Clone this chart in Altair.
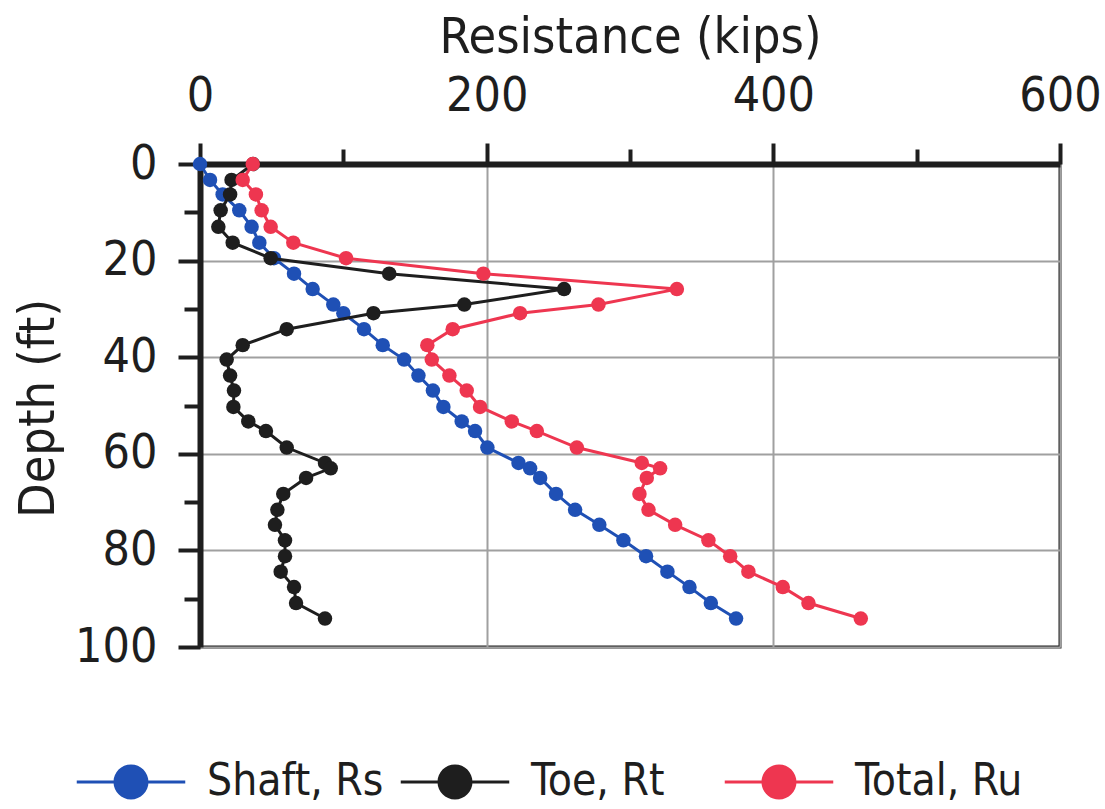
import altair as alt
import pandas as pd

# ---- data ----
depth = [0, 3.3, 6.3, 9.6, 13.0, 16.3, 19.5, 22.7, 25.9, 29.1, 30.9, 34.2, 37.5, 40.5,
         43.8, 46.9, 50.3, 53.3, 55.3, 58.7, 61.9, 63.0, 65.0, 68.3, 71.6, 74.7, 77.9,
         81.2, 84.4, 87.6, 90.9, 94.1]
shaft = [0, 7, 15.8, 27.4, 36, 41.4, 51.6, 65.6, 78.6, 93, 100, 114.4, 127.5, 142.4,
         152.4, 162.5, 169.8, 182.6, 191.9, 200.5, 222.2, 230.3, 237.3, 248.4, 261.7,
         278.6, 295.4, 311.2, 326.1, 341.5, 356.4, 374]
toe = [37, 22, 21, 14.4, 12.8, 22.8, 49.3, 132, 254, 184.4, 121, 60.5, 29.8, 18.6,
       21, 23.7, 23.3, 33.7, 46, 60.5, 87.2, 91.2, 74, 58.1, 54, 52.3, 59.3, 59.3,
       56.3, 65.6, 67, 87.2]
total = [36.8, 29.8, 39, 43, 49.3, 65.1, 101.9, 197.7, 332.7, 278, 223.3, 176.3, 158.6,
         161.7, 174, 186.1, 195.4, 217.5, 235, 262.9, 308.2, 321, 311.7, 306.6, 312.9,
         331.5, 354.7, 369.9, 382.6, 406.6, 424.5, 461]

series_names = ["Shaft, Rs", "Toe, Rt", "Total, Ru"]
series_colors = ["#1f50b5", "#1e1e1e", "#ee3650"]
x_ticks = [0, 100, 200, 300, 400, 500, 600]
y_ticks = [0, 10, 20, 30, 40, 50, 60, 70, 80, 90, 100]

frames = []
for name, vals in zip(series_names, [shaft, toe, total]):
    frames.append(pd.DataFrame({"series": name, "depth": depth, "value": vals,
                                "idx": list(range(len(depth)))}))

FONT = "DejaVu Sans Condensed, DejaVu Sans, Liberation Sans, sans-serif"
INK = "#1e1e1e"

color_scale = alt.Scale(domain=series_names, range=series_colors)

legend_path = ("M-3.1,-0.08H-0.97V0.08H-3.1Z M0.97,-0.08H3.1V0.08H0.97Z "
               "M1,0A1,1,0,1,1,-1,0A1,1,0,1,1,1,0Z")

legend = alt.Legend(
    title=None, orient="none", direction="horizontal", columns=3,
    legendX=-91, legendY=596, symbolType=legend_path, symbolSize=1225,
    symbolStrokeWidth=0, symbolOpacity=1, labelFont=FONT, labelFontSize=44,
    labelColor=INK, labelOffset=54, gridAlign="all", columnPadding=16,
    labelLimit=400,
)

x_enc = alt.X(
    "value:Q",
    scale=alt.Scale(domain=[0, 600], nice=False, zero=False),
    axis=alt.Axis(
        orient="top", values=x_ticks,
        labelExpr="datum.value % 200 === 0 ? datum.label : ''",
        title="Resistance (kips)", titleFont=FONT, titleFontSize=50,
        titleFontWeight="normal", titleColor=INK,
        titleX=430, titleY=-112, titleBaseline="alphabetic", titleAlign="center",
        labelFont=FONT, labelFontSize=48, labelColor=INK, labelPadding=23,
        labelFlush=False, labelOverlap=False, labelBound=False,
        tickSize={"condition": {"test": "datum.value % 200 === 0", "value": 21}, "value": 15},
        tickWidth=4, tickColor=INK, domainColor=INK, domainWidth=6,
        gridColor={"condition": {"test": "datum.value % 200 === 0", "value": "#a0a0a0"},
                   "value": "transparent"},
        gridWidth=2,
    ),
)
y_enc = alt.Y(
    "depth:Q",
    scale=alt.Scale(domain=[0, 100], reverse=True, nice=False, zero=False),
    axis=alt.Axis(
        orient="left", values=y_ticks,
        labelExpr="datum.value % 20 === 0 ? datum.label : ''",
        title="Depth (ft)", titleFont=FONT, titleFontSize=50,
        titleFontWeight="normal", titleColor=INK,
        titleX=-147, titleY=244, titleAngle=270, titleBaseline="alphabetic",
        titleAlign="center",
        labelFont=FONT, labelFontSize=48, labelColor=INK, labelPadding=21,
        labelFlush=False, labelOverlap=False, labelBound=False,
        tickSize={"condition": {"test": "datum.value % 20 === 0", "value": 22}, "value": 16},
        tickWidth=4, tickColor=INK, domainColor=INK, domainWidth=6,
        gridColor={"condition": {"test": "datum.value % 20 === 0", "value": "#a0a0a0"},
                   "value": "transparent"},
        gridWidth=2,
    ),
)

layers = []
for df, col in zip(frames, series_colors):
    base = alt.Chart(df)
    line = base.mark_line(strokeWidth=3, color=col).encode(
        x=x_enc, y=y_enc, order="idx:Q",
    )
    pts = base.mark_circle(size=210, opacity=1).encode(
        x=x_enc, y=y_enc,
        color=alt.Color("series:N", scale=color_scale, legend=legend),
    )
    layers += [line, pts]

chart = alt.layer(*layers).properties(
    width=860, height=483,
    autosize=alt.AutoSizeParams(type="none"),
    padding={"left": 200, "top": 164, "right": 45, "bottom": 162},
    background="white",
).configure_view(stroke=INK, strokeWidth=3)

chart.save("out.html", embed_options={"renderer": "svg", "actions": False})
